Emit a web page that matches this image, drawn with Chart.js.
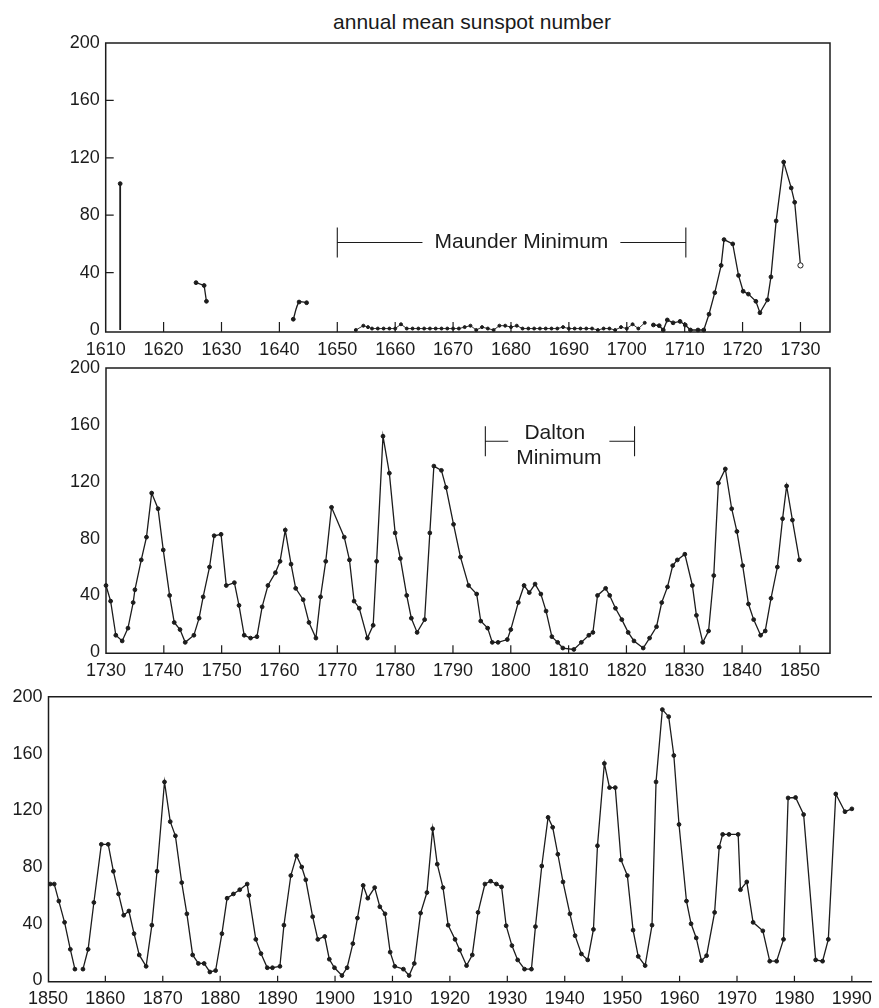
<!DOCTYPE html>
<html>
<head>
<meta charset="utf-8">
<title>annual mean sunspot number</title>
<script src="https://cdn.jsdelivr.net/npm/chart.js@4.4.1/dist/chart.umd.min.js"></script>
<style>
  html, body { margin: 0; padding: 0; background: #fff; overflow: hidden; }
  body { width: 879px; height: 1008px; position: relative; font-family: "Liberation Sans", Arial, sans-serif; color: #1a1a1a; }
  canvas { position: absolute; left: 0; }
  #title { position: absolute; left: 272px; width: 400px; top: 11px; text-align: center; font-size: 21px; line-height: 22px; }
</style>
</head>
<body>
<div id="title">annual mean sunspot number</div>
<canvas id="p1" width="879" height="365" style="top:0px"></canvas>
<canvas id="p2" width="879" height="330" style="top:350px"></canvas>
<canvas id="p3" width="879" height="328" style="top:680px"></canvas>
<script>
// ---- data (year, annual mean sunspot number) ----
const yTickValues = [0, 40, 80, 120, 160, 200];
const p1XTicks = [1610, 1620, 1630, 1640, 1650, 1660, 1670, 1680, 1690, 1700, 1710, 1720, 1730];
const p2XTicks = [1730, 1740, 1750, 1760, 1770, 1780, 1790, 1800, 1810, 1820, 1830, 1840, 1850];
const p3XTicks = [1850, 1860, 1870, 1880, 1890, 1900, 1910, 1920, 1930, 1940, 1950, 1960, 1970, 1980, 1990];

// panel 1: 1610-1730
const spikeYears = [1612.5, 1612.5];
const spikeValues = [0, 102];
const early1620Years = [1625.6, 1627.0, 1627.4];
const early1620Values = [33, 31, 20];
const early1640Years = [1642.4, 1643.4, 1644.7];
const early1640Values = [7.5, 19.5, 19];
const maunderYears = [1653.2, 1654.5, 1655.3, 1656, 1657, 1658, 1659, 1660, 1661, 1662, 1663, 1664, 1665, 1666,
  1667, 1668, 1669, 1670, 1671, 1672, 1673, 1674, 1675, 1676, 1677, 1678, 1679, 1680, 1681, 1682, 1683, 1684,
  1685, 1686, 1687, 1688, 1689, 1690, 1691, 1692, 1693, 1694, 1695, 1696, 1697, 1698, 1699, 1700, 1701, 1702, 1703.1];
const maunderValues = [0, 3, 2, 1, 1, 1, 1, 1, 4, 1, 1, 1, 1, 1,
  1, 1, 1, 1, 1, 2, 3, 0, 2, 1, 0, 3, 3, 2, 3, 1, 1, 1,
  1, 1, 1, 1, 2, 1, 1, 1, 1, 1, 0, 1, 1, 0, 2, 1, 4, 1, 5];
const lateYears = [1704.6, 1705.6, 1706.3, 1707.0, 1708.0, 1709.2, 1710.1, 1711.0, 1712.3, 1713.3, 1714.2, 1715.2,
  1716.3, 1716.8, 1718.3, 1719.3, 1720.1, 1721.0, 1722.3, 1723.0, 1724.3, 1724.9, 1725.8, 1727.1, 1728.4, 1729.0, 1730.0];
const lateValues = [3.5, 3, 0, 7, 5, 6, 3.5, 0, 0, 0, 11, 26,
  45, 63, 60, 38, 27, 25, 20, 12, 21, 37, 76, 117, 99, 89, 45];

// panel 2: 1730-1850
const p2Years = [1730.0, 1730.8, 1731.7, 1732.8, 1733.8, 1734.7, 1735.0, 1736.1, 1737.0, 1737.9,
  1739.0, 1739.9, 1741.0, 1741.8, 1742.8, 1743.7, 1745.2, 1746.1, 1746.8, 1747.9,
  1748.7, 1749.9, 1750.8, 1752.2, 1753.0, 1753.9, 1755.0, 1756.1, 1757.0, 1758.0,
  1759.3, 1760.1, 1761.0, 1762.0, 1762.8, 1764.1, 1765.1, 1766.3, 1767.1, 1768.0,
  1769.0, 1771.2, 1772.1, 1772.9, 1773.8, 1775.2, 1776.2, 1776.8, 1777.9, 1779.0,
  1780.0, 1780.9, 1782.0, 1782.8, 1783.8, 1785.1, 1786.0, 1786.7, 1788.0, 1788.8,
  1790.1, 1791.3, 1792.7, 1794.1, 1794.8, 1796.0, 1796.8, 1797.8, 1799.4, 1800.0,
  1801.3, 1802.3, 1803.2, 1804.2, 1805.2, 1806.1, 1807.1, 1808.1, 1809.0, 1810.9,
  1812.2, 1813.5, 1814.2, 1815.0, 1816.4, 1817.1, 1818.1, 1819.2, 1820.3, 1821.3,
  1822.9, 1824.0, 1825.2, 1826.1, 1827.1, 1828.0, 1828.8, 1830.1, 1831.4, 1832.1,
  1833.2, 1834.2, 1835.1, 1835.9, 1837.1, 1838.2, 1839.1, 1840.1, 1841.1, 1842.0,
  1843.2, 1844.0, 1845.0, 1846.1, 1847.0, 1847.7, 1848.7, 1849.9];
const p2Values = [47, 36, 12, 8, 17, 35, 44, 65, 81, 112,
  101, 72, 40, 21, 16, 7, 12, 24, 39, 60,
  82, 83, 47, 49, 33, 12, 10, 11, 32, 47,
  56, 64, 86, 62, 45, 37, 21, 10, 39, 64,
  102, 81, 65, 36, 31, 10, 19, 64, 152, 126,
  84, 66, 40, 24, 14, 23, 84, 131, 128, 116,
  90, 67, 47, 41, 22, 17, 7, 7, 9, 16,
  35, 47, 42, 48, 41, 29, 11, 7, 3, 2,
  7, 12, 14, 40, 45, 40, 31, 23, 14, 8,
  3, 10, 18, 35, 46, 61, 65, 69, 47, 26,
  7, 15, 54, 119, 129, 101, 85, 61, 34, 23,
  12, 15, 38, 60, 94, 117, 93, 65];

// panel 3: 1850-1990 (null = break in the curve)
const p3Years = [1850.4, 1851.1, 1851.9, 1852.9, 1853.9, 1854.7, 1855.4, 1856.1, 1857.0, 1858.0, 1859.3,
  1860.5, 1861.4, 1862.3, 1863.2, 1864.1, 1865.0, 1865.9, 1867.1, 1868.1, 1869.0,
  1870.3, 1871.3, 1872.2, 1873.3, 1874.2, 1875.2, 1876.2, 1877.2, 1878.2, 1879.2,
  1880.3, 1881.2, 1882.3, 1883.4, 1884.7, 1885.0, 1886.2, 1887.1, 1888.2, 1889.1,
  1890.4, 1891.1, 1892.3, 1893.3, 1894.2, 1894.9, 1896.1, 1897.0, 1898.2, 1899.0,
  1899.9, 1901.2, 1902.1, 1903.1, 1903.9, 1904.9, 1905.7, 1906.9, 1907.8, 1908.7,
  1909.6, 1910.4, 1911.9, 1912.9, 1913.8, 1914.9, 1916.0, 1917.0, 1917.8, 1918.8,
  1919.7, 1920.9, 1921.7, 1922.9, 1923.9, 1924.9, 1926.1, 1927.1, 1928.1, 1929.0,
  1929.8, 1930.8, 1931.8, 1933.0, 1934.2, 1934.9, 1936.0, 1937.1, 1937.9, 1938.8,
  1939.7, 1940.9, 1941.8, 1942.9, 1944.0, 1945.0, 1945.7, 1946.9, 1947.8, 1948.8,
  1949.8, 1950.9, 1951.9, 1952.8, 1954.0, 1955.2, 1955.9, 1957.0, 1958.1, 1959.0,
  1959.9, 1961.2, 1962.0, 1962.9, 1963.8, 1964.7, 1966.1, 1966.9, 1967.5, 1968.6,
  1970.2, 1970.6, 1971.7, 1972.8, 1974.5, 1975.7, 1976.9, 1978.1, 1978.9, 1980.2,
  1981.6, 1983.7, 1984.9, 1985.9, 1987.2, 1988.8, 1990.0];
const p3Values = [68, 68, 56, 41, 22, 8, null, 8, 22, 55, 96,
  96, 77, 61, 46, 49, 33, 18, 10, 39, 77,
  140, 112, 102, 69, 47, 18, 12, 12, 6, 7,
  33, 58, 61, 64, 68, 60, 29, 19, 9, 9,
  10, 39, 74, 88, 80, 71, 45, 29, 31, 15,
  9, 3.5, 9, 26, 44, 67, 58, 65.5, 52, 47,
  20, 10, 8, 3.5, 12, 47.5, 62, 107, 82, 65.5,
  39, 29, 21.5, 10.5, 18, 48, 68, 70, 68, 66,
  38.6, 24.6, 14.5, 8, 8, 38, 80.7, 115, 108, 89,
  69.5, 47, 31.6, 18.7, 14.5, 36, 95, 153, 136, 136,
  85, 74, 35.5, 17, 10.5, 39, 140, 191, 186, 158.6,
  110, 56, 40, 30, 14, 17.5, 48, 94, 103, 103,
  103, 64, 69.5, 41, 35, 13.6, 13.6, 29, 128.7, 129,
  117, 14.5, 13.6, 29, 131.5, 119, 121];

// ---- styling ----
const INK = '#1c1c1c';
const FONT = '"Liberation Sans", Arial, Helvetica, sans-serif';
const tickFont = { family: FONT, size: 18 };

function pts(xs, ys) {
  return xs.map((x, i) => ({ x: x, y: ys[i] }));
}

function series(xs, ys, extra) {
  return Object.assign({
    data: pts(xs, ys),
    borderColor: INK,
    borderWidth: 1.3,
    pointRadius: 1.9,
    pointBorderWidth: 1,
    pointBackgroundColor: INK,
    pointBorderColor: INK,
    tension: 0,
    spanGaps: false,
    clip: false
  }, extra || {});
}

function xAxis(min, max, ticks, height) {
  return {
    type: 'linear', min: min, max: max,
    grid: { display: false, drawTicks: false },
    border: { display: false },
    ticks: { font: tickFont, color: INK, padding: 7, maxRotation: 0, autoSkip: false, callback: v => String(v) },
    afterBuildTicks: s => { s.ticks = ticks.map(v => ({ value: v })); },
    afterFit: s => { s.height = height; }
  };
}

function yAxis(min, max, width) {
  return {
    type: 'linear', min: min, max: max,
    grid: { display: false, drawTicks: false },
    border: { display: false },
    ticks: { font: tickFont, color: INK, padding: 6, callback: v => String(v) },
    afterBuildTicks: s => { s.ticks = yTickValues.map(v => ({ value: v })); },
    afterFit: s => { s.width = width; }
  };
}

// frame, inward tick marks and bracket annotations
function deco(cfg) {
  return {
    id: 'deco',
    beforeDatasetsDraw(chart) {
      const ctx = chart.ctx, a = chart.chartArea, x = chart.scales.x, y = chart.scales.y;
      ctx.save();
      ctx.strokeStyle = INK;
      ctx.lineWidth = 1.5;
      ctx.beginPath();
      if (cfg.openRight) {
        ctx.moveTo(a.right, a.top); ctx.lineTo(a.left, a.top);
        ctx.lineTo(a.left, a.bottom); ctx.lineTo(a.right, a.bottom);
      } else {
        ctx.rect(a.left, a.top, a.right - a.left, a.bottom - a.top);
      }
      ctx.stroke();
      ctx.lineWidth = 1.2;
      ctx.beginPath();
      cfg.xTicks.forEach(v => {
        if (v <= x.min + 0.5) return;
        const px = x.getPixelForValue(v);
        ctx.moveTo(px, a.bottom); ctx.lineTo(px, a.bottom - cfg.tickLen);
      });
      if (cfg.yTickLen) {
        yTickValues.forEach(v => {
          if (v <= 0 || v >= 200) return;
          const py = y.getPixelForValue(v);
          ctx.moveTo(a.left, py); ctx.lineTo(a.left + cfg.yTickLen, py);
        });
      }
      ctx.stroke();
      if (cfg.bracket) {
        const b = cfg.bracket;
        const yb = y.getPixelForValue(b.at);
        const h = Math.abs(y.getPixelForValue(b.at + b.half) - yb);
        const x0 = x.getPixelForValue(b.from), x1 = x.getPixelForValue(b.to);
        const xt = x.getPixelForValue(b.textAt);
        ctx.font = '21px ' + FONT;
        ctx.fillStyle = INK;
        ctx.textAlign = 'center';
        ctx.textBaseline = 'middle';
        let wide = 0;
        b.lines.forEach((t, i) => {
          wide = Math.max(wide, ctx.measureText(t).width);
          ctx.fillText(t, xt + (b.shift ? b.shift[i] : 0), yb + b.lineOffsets[i]);
        });
        ctx.lineWidth = 1.1;
        ctx.beginPath();
        ctx.moveTo(x0, yb - h); ctx.lineTo(x0, yb + h);
        ctx.moveTo(x1, yb - h); ctx.lineTo(x1, yb + h);
        ctx.moveTo(x0, yb); ctx.lineTo(xt - wide / 2 - b.gap, yb);
        ctx.moveTo(xt + wide / 2 + b.gap, yb); ctx.lineTo(x1, yb);
        ctx.stroke();
      }
      ctx.restore();
    }
  };
}

function baseOptions(padding, scales) {
  return {
    responsive: false,
    animation: false,
    events: [],
    layout: { padding: padding },
    plugins: { legend: { display: false }, tooltip: { enabled: false }, title: { display: false } },
    scales: scales
  };
}

// ---- panel 1 ----
new Chart(document.getElementById('p1'), {
  type: 'line',
  data: {
    datasets: [
      series(spikeYears, spikeValues, { pointRadius: [0, 1.9], borderWidth: 1.8 }),
      series(early1620Years, early1620Values),
      series(early1640Years, early1640Values, { tension: 0.3 }),
      series(maunderYears, maunderValues, { borderWidth: 0.9, pointRadius: 1.5 }),
      series(lateYears, lateValues, {
        pointBackgroundColor: c => c.dataIndex === lateYears.length - 1 ? '#ffffff' : INK,
        pointRadius: c => c.dataIndex === lateYears.length - 1 ? 2.6 : 1.9
      })
    ]
  },
  options: baseOptions({ top: 43, right: 49, left: 0, bottom: 0 }, {
    x: xAxis(1610, 1735.1, p1XTicks, 33),
    y: yAxis(-1.4, 200, 105.7)
  }),
  plugins: [deco({
    xTicks: p1XTicks, tickLen: 10, yTickLen: 8,
    bracket: { from: 1650, to: 1710.2, at: 61, half: 10.5, textAt: 1681.8, lines: ['Maunder Minimum'], lineOffsets: [0], gap: 12 }
  })]
});

// ---- panel 2 ----
new Chart(document.getElementById('p2'), {
  type: 'line',
  data: { datasets: [series(p2Years, p2Values)] },
  options: baseOptions({ top: 18, right: 49, left: 0, bottom: 0 }, {
    x: xAxis(1730, 1855.2, p2XTicks, 26.7),
    y: yAxis(-0.7, 200, 106)
  }),
  plugins: [deco({
    xTicks: p2XTicks, tickLen: 8, yTickLen: 0,
    bracket: { from: 1795.6, to: 1821.4, at: 148.5, half: 10.5, textAt: 1808.3, lines: ['Dalton', 'Minimum'], lineOffsets: [-8, 17], shift: [-4, 0], gap: 8 }
  })]
});

// ---- panel 3 ----
new Chart(document.getElementById('p3'), {
  type: 'line',
  data: { datasets: [series(p3Years, p3Values)] },
  options: baseOptions({ top: 16, right: 0, left: 0, bottom: 0 }, {
    x: xAxis(1850.1, 1993.5, p3XTicks, 26.3),
    y: yAxis(-0.85, 200, 48.5)
  }),
  plugins: [deco({ xTicks: p3XTicks, tickLen: 6, yTickLen: 0, openRight: true })]
});
</script>
</body>
</html>
